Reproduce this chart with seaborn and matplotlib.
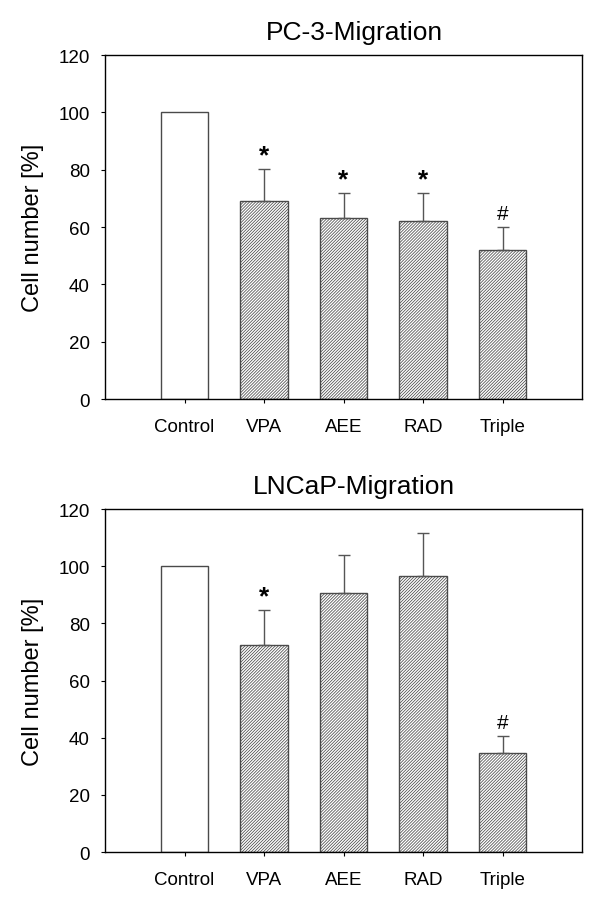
import numpy as np
import pandas as pd
import seaborn as sns
import matplotlib
matplotlib.use("Agg")
import matplotlib.pyplot as plt

groups = ["Control", "VPA", "AEE", "RAD", "Triple"]

pc3_mean = [100.0, 69.2, 63.1, 62.0, 51.9]
pc3_sem = [0.0, 11.1, 8.9, 10.0, 8.0]
pc3_marks = ["", "*", "*", "*", "#"]

lncap_mean = [100.0, 72.5, 90.7, 96.7, 34.6]
lncap_sem = [0.0, 12.2, 13.2, 15.0, 6.1]
lncap_marks = ["", "*", "", "", "#"]

titles = ["PC-3-Migration", "LNCaP-Migration"]
yticks = [0, 20, 40, 60, 80, 100, 120]

sns.set_style("white")
plt.rcParams["font.family"] = ["Liberation Sans", "DejaVu Sans"]
plt.rcParams["text.color"] = "black"
plt.rcParams["axes.labelcolor"] = "black"
plt.rcParams["hatch.linewidth"] = 0.55
plt.rcParams["hatch.color"] = "#2a2a2a"

edge = "#4a4a4a"


def draw_panel(ax, mean, sem, marks, title):
    df = pd.DataFrame({"group": groups, "value": mean})
    sns.barplot(data=df, x="group", y="value", order=groups, width=0.6,
                color="white", edgecolor=edge, linewidth=1.0, errorbar=None,
                ax=ax)
    for i, bar in enumerate(ax.patches):
        bar.set_facecolor("white")
        if i > 0:
            bar.set_hatch("/" * 11)

    xs = np.arange(len(groups))
    m = np.array(mean)
    e = np.array(sem)
    has_err = e > 0
    ax.errorbar(xs[has_err], m[has_err], yerr=[np.zeros(has_err.sum()), e[has_err]],
                fmt="none", ecolor="#555555", elinewidth=1.0, capsize=4,
                capthick=1.0, zorder=1)

    for x, top, mk in zip(xs, m + e, marks):
        if mk == "*":
            ax.annotate(mk, (x, top), xytext=(0, 1), textcoords="offset points",
                        ha="center", va="bottom", fontsize=19, fontweight="bold")
        elif mk == "#":
            ax.annotate(mk, (x, top), xytext=(0, 3), textcoords="offset points",
                        ha="center", va="bottom", fontsize=15)

    ax.set_xlim(-1, 5)
    ax.set_ylim(0, 120)
    ax.set_yticks(yticks)
    ax.set_xlabel("")
    ax.set_ylabel("Cell number [%]", fontsize=17)
    ax.yaxis.set_label_coords(-0.128, 0.5)
    ax.tick_params(axis="both", direction="out", length=3, width=0.8,
                   colors="black", labelsize=13.5, left=True, bottom=True)
    ax.tick_params(axis="x", pad=11)
    ax.tick_params(axis="y", pad=8)
    for s in ax.spines.values():
        s.set_visible(True)
        s.set_color("black")
        s.set_linewidth(1.0)
    # title sits a bit right of the frame centre, as in the original
    ax.text(0.522, 1.032, title, transform=ax.transAxes, ha="center",
            va="bottom", fontsize=19, color="black")


fig = plt.figure(figsize=(6, 9.04), dpi=100)
ax1 = fig.add_axes([0.175, 0.5575, 0.795, 0.3805])
ax2 = fig.add_axes([0.175, 0.0564, 0.795, 0.3794])

draw_panel(ax1, pc3_mean, pc3_sem, pc3_marks, titles[0])
draw_panel(ax2, lncap_mean, lncap_sem, lncap_marks, titles[1])

plt.savefig("out.png", dpi=100)
